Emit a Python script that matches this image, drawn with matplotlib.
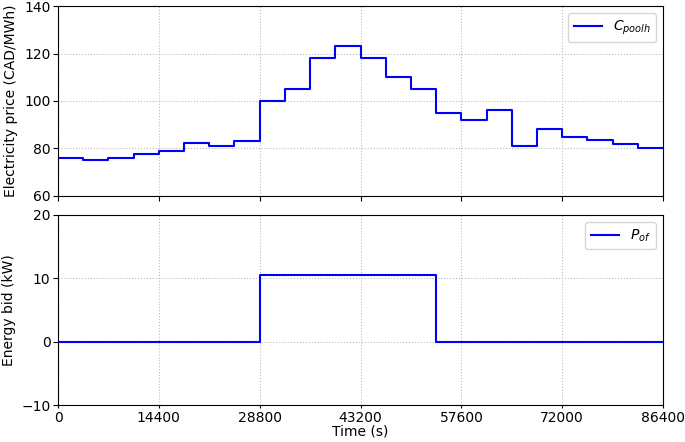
import numpy as np
import matplotlib.pyplot as plt

# hourly pool price (CAD/MWh) and energy bid (kW)
hours = np.arange(25)
price = [76, 75, 76, 77.5, 79, 82.5, 81, 83, 100, 105, 118, 123,
         118, 110, 105, 95, 92, 96, 81, 88, 85, 83.5, 82, 80]
bid = [0, 0, 0, 0, 0, 0, 0, 0, 10.5, 10.5, 10.5, 10.5,
       10.5, 10.5, 10.5, 0, 0, 0, 0, 0, 0, 0, 0, 0]
xticks = [0, 14400, 28800, 43200, 57600, 72000, 86400]

t = hours * 3600

fig = plt.figure(figsize=(6.85, 4.42), dpi=100)
ax1 = fig.add_axes([0.0847, 0.5566, 0.8833, 0.4298])
ax2 = fig.add_axes([0.0847, 0.0837, 0.8833, 0.4299], sharex=ax1)

ax1.step(t, price + [price[-1]], where='post', c='blue', lw=1.5, label='$C_{poolh}$')
ax1.set_ylim(60, 140)
ax1.set_yticks([60, 80, 100, 120, 140])
ax1.set_ylabel('Electricity price (CAD/MWh)')
ax1.grid(ls=':', c='#bbbbbb')
ax1.legend(loc='upper right')
ax1.tick_params(labelbottom=False)
ax1.tick_params(axis='y', pad=2)

ax2.step(t, bid + [bid[-1]], where='post', c='blue', lw=1.5, label='$P_{of}$')
ax2.set_ylim(-10, 20)
ax2.set_yticks([-10, 0, 10, 20])
ax2.set_ylabel('Energy bid (kW)')
ax2.set_xlabel('Time (s)', labelpad=0)
ax2.grid(ls=':', c='#bbbbbb')
ax2.legend(loc='upper right')
ax2.tick_params(axis='x', length=2, pad=2)
ax2.tick_params(axis='y', pad=2)

ax2.set_xlim(0, 86400)
ax2.set_xticks(xticks)

fig.savefig('out.png', dpi=100)
